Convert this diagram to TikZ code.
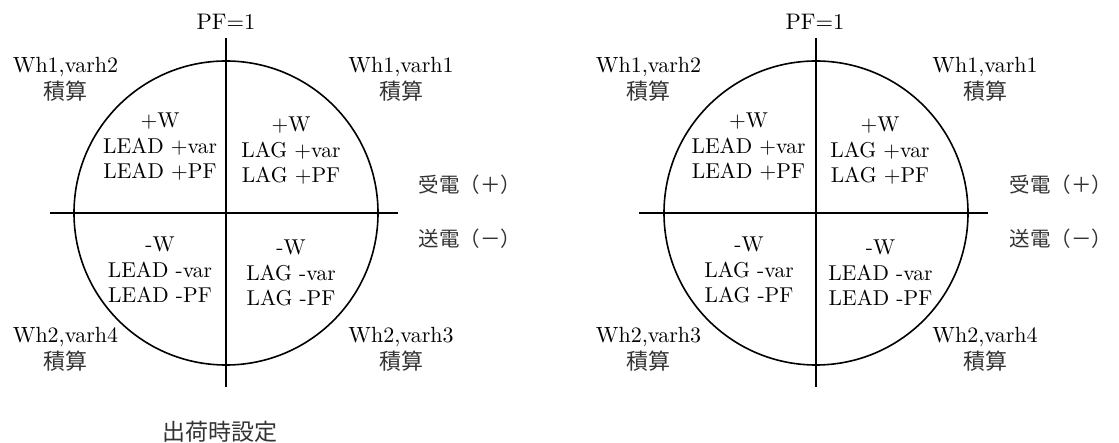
\documentclass[tikz,border=0pt]{standalone}
\usepackage{fontspec}
\setmainfont{lmroman10-regular.otf}
\newfontfamily\cjk{Noto Sans CJK JP}
\definecolor{jpgray}{gray}{0.2}
\begin{document}
\begin{tikzpicture}[x=1pt,y=-1pt,
  axis/.style={line width=1.6pt},
  ring/.style={line width=1.6pt},
  quad/.style={font=\fontsize{21.5}{25.5}\selectfont, align=center, inner sep=0pt},
  wh/.style={font=\fontsize{22}{27}\selectfont, align=center, inner sep=0pt},
  pf/.style={font=\fontsize{22.5}{26}\selectfont, inner sep=0pt},
  jp/.style={font=\cjk\fontsize{20.5}{25}\selectfont, text=jpgray, inner sep=0pt},
  jpbig/.style={font=\cjk\fontsize{23}{27}\selectfont, text=jpgray, inner sep=0pt}]
\useasboundingbox (0,0) rectangle (1119,443);
\fill[white] (0,0) rectangle (1119,443);

% ---------- left diagram ----------
\coordinate (Lc) at (226,213);
\coordinate (Ltop) at (226,38);
\coordinate (Lbot) at (226,387);
\coordinate (Lleft) at (50,213);
\coordinate (Lright) at (398,213);
\draw[ring] (Lc) circle[radius=152pt];
\draw[axis] (Ltop) -- (Lbot);
\draw[axis] (Lleft) -- (Lright);

\node[pf] (Lpf) at (226,22) {PF=1};
\node[wh] (Lwh2) at (65.5,79) {Wh1,varh2\\{\cjk\color{jpgray}積算}};
\node[wh] (Lwh1) at (401,79) {Wh1,varh1\\{\cjk\color{jpgray}積算}};
\node[wh] (Lwh4) at (65.5,349) {Wh2,varh4\\{\cjk\color{jpgray}積算}};
\node[wh] (Lwh3) at (401,349) {Wh2,varh3\\{\cjk\color{jpgray}積算}};

\node[quad] (Lq2) at (160,147) {+W\\LEAD +var\\LEAD +PF};
\node[quad] (Lq1) at (291,151) {+W\\LAG +var\\LAG +PF};
\node[quad] (Lq3) at (160,270) {-W\\LEAD -var\\LEAD -PF};
\node[quad] (Lq4) at (291,273) {-W\\LAG -var\\LAG -PF};

\node[jp] (Lrecv) at (470,185) {受電（＋）};
\node[jp] (Lsend) at (470,239) {送電（－）};

\node[jpbig] (ship) at (220,432) {出荷時設定};

% ---------- right diagram ----------
\coordinate (Rc) at (816,213);
\coordinate (Rtop) at (816,38);
\coordinate (Rbot) at (816,387);
\coordinate (Rleft) at (639,213);
\coordinate (Rright) at (988,213);
\draw[ring] (Rc) circle[radius=152pt];
\draw[axis] (Rtop) -- (Rbot);
\draw[axis] (Rleft) -- (Rright);

\node[pf] (Rpf) at (815,22) {PF=1};
\node[wh] (Rwh2) at (648.5,79) {Wh1,varh2\\{\cjk\color{jpgray}積算}};
\node[wh] (Rwh1) at (985,79) {Wh1,varh1\\{\cjk\color{jpgray}積算}};
\node[wh] (Rwh3) at (648.5,349) {Wh2,varh3\\{\cjk\color{jpgray}積算}};
\node[wh] (Rwh4) at (985,349) {Wh2,varh4\\{\cjk\color{jpgray}積算}};

\node[quad] (Rq2) at (748.5,147) {+W\\LEAD +var\\LEAD +PF};
\node[quad] (Rq1) at (880,151) {+W\\LAG +var\\LAG +PF};
\node[quad] (Rq3) at (749,270) {-W\\LAG -var\\LAG -PF};
\node[quad] (Rq4) at (880.5,273) {-W\\LEAD -var\\LEAD -PF};

\node[jp] (Rrecv) at (1061,185) {受電（＋）};
\node[jp] (Rsend) at (1061,239) {送電（－）};
\end{tikzpicture}
\end{document}
